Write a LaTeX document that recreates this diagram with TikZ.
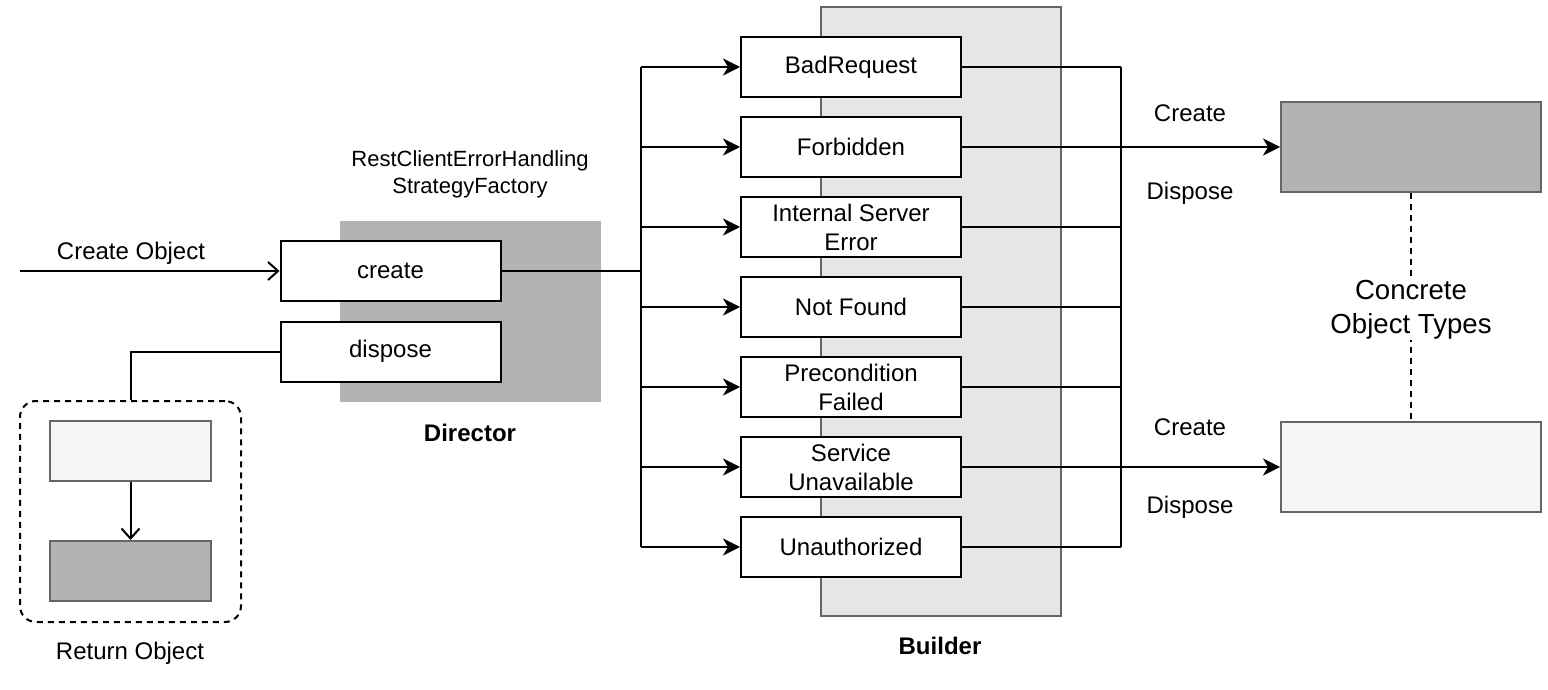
\documentclass[tikz,border=0pt]{standalone}
\usepackage{fontspec}
\setmainfont{Liberation Sans}
\usetikzlibrary{arrows.meta}
\definecolor{darkg}{HTML}{B3B3B3}
\definecolor{lightg}{HTML}{F5F5F5}
\definecolor{buildg}{HTML}{E6E6E6}
\definecolor{edgeg}{HTML}{666666}
\tikzset{
  base/.style={font=\fontsize{12}{14.5}\selectfont, align=center, inner sep=0pt},
  box/.style={base, draw=black, fill=white, line width=1pt, minimum width=110pt, minimum height=30pt},
  gbox/.style={draw=edgeg, line width=1pt, inner sep=0pt},
  lbl/.style={base},
  conn/.style={line width=1pt},
  farr/.style={conn, -{Stealth[length=8.5pt,width=8.5pt,inset=2.5pt]}},
  oarr/.style={conn, -{Straight Barb[length=5pt,width=9pt]}},
  dashbox/.style={draw=black, line width=1pt, dash pattern=on 3pt off 2.5pt, rounded corners=8pt, inner sep=0pt}
}
\begin{document}
\begin{tikzpicture}[x=0.5pt,y=-0.5pt]
\useasboundingbox (0,0) rectangle (1548,690);
% backgrounds
\node[fill=darkg, minimum width=130.5pt, minimum height=90.5pt, inner sep=0pt] (dirbg) at (470.5,311.5) {};
\node[gbox, fill=buildg, minimum width=120pt, minimum height=304.5pt] (buildbg) at (941,311.5) {};
% director
\node[box] (create) at (390.5,271) {create};
\node[box] (dispose) at (390.5,351.5) {dispose};
\node[lbl, font=\fontsize{11}{13.5}\selectfont] (factory) at (470,174) {RestClientErrorHandling\\StrategyFactory};
\node[lbl, font=\fontsize{12}{14.5}\selectfont\bfseries] (director) at (470,433) {Director};
\node[lbl, font=\fontsize{12}{14.5}\selectfont\bfseries] (builder) at (940,646) {Builder};
% input
\coordinate (in) at (20,271);
\node[lbl] (createobj) at (131,253) {Create Object};
\draw[oarr] (in) -- (create.west);
% return object
\node[dashbox, minimum width=110.5pt, minimum height=110.5pt] (ret) at (130.5,511.5) {};
\node[gbox, fill=lightg, minimum width=80.5pt, minimum height=30pt] (retl) at (130.5,451) {};
\node[gbox, fill=darkg, minimum width=80.5pt, minimum height=30pt] (retd) at (130.5,571) {};
\node[lbl] (retlabel) at (130,653) {Return Object};
\draw[oarr] (retl.south) -- (retd.north);
\draw[conn] (dispose.west) -| (ret.north);
% builder boxes
\node[box] (br) at (851,67) {BadRequest};
\node[box] (fb) at (851,147) {Forbidden};
\node[box] (ise) at (851,227) {Internal Server\\Error};
\node[box] (nf) at (851,307) {Not Found};
\node[box] (pf) at (851,387) {Precondition\\Failed};
\node[box] (su) at (851,467) {Service\\Unavailable};
\node[box] (un) at (851,547) {Unauthorized};
\coordinate (busL) at (641,0);
\coordinate (busR) at (1121,0);
\draw[conn] (create.east) -- (busL |- create.east);
\draw[conn] (busL |- br.west) -- (busL |- un.west);
\draw[conn] (busR |- br.east) -- (busR |- un.east);
\foreach \b in {br,fb,ise,nf,pf,su,un}{
  \draw[farr] (busL |- \b.west) -- (\b.west);
  \draw[conn] (\b.east) -- (busR |- \b.east);
}
% concrete objects
\node[gbox, fill=darkg, minimum width=130pt, minimum height=45pt] (cdark) at (1411,147) {};
\node[gbox, fill=lightg, minimum width=130pt, minimum height=45pt] (clight) at (1411,467) {};
\draw[farr] (fb.east) -- (cdark.west);
\draw[farr] (su.east) -- (clight.west);
\draw[conn, dash pattern=on 3pt off 2.5pt] (cdark.south) -- node[lbl, fill=white, yshift=-1.5pt, font=\fontsize{13.8}{17}\selectfont] (concrete) {Concrete\\Object Types} (clight.north);
\node[lbl] (c1) at (1190,113) {Create};
\node[lbl] (d1) at (1190,193) {Dispose};
\node[lbl] (c2) at (1190,427) {Create};
\node[lbl] (d2) at (1190,507) {Dispose};
\end{tikzpicture}
\end{document}
